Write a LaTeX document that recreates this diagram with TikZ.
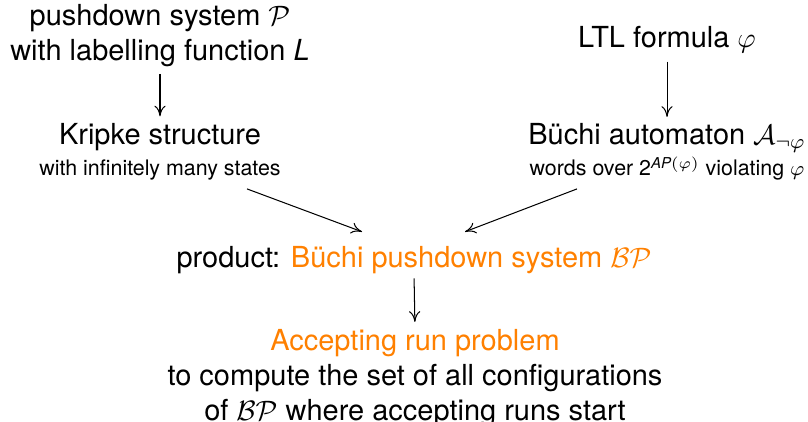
\documentclass[tikz,border=0pt]{standalone}
\usepackage{amsmath}
\usepackage{fontspec}
\setmainfont{TeX Gyre Heros}
\usetikzlibrary{calc,arrows.meta}
\definecolor{borange}{RGB}{255,128,0}
\begin{document}
\begin{tikzpicture}[x=0.39pt,y=-0.39pt,
  lbl/.style={align=center,inner sep=0pt,font=\fontsize{11.3}{13.6}\selectfont},
  arr/.style={-{To[length=4.2pt,width=4.4pt]},line width=0.4pt}]
\newcommand{\subtext}[1]{{\fontsize{8.35}{12}\selectfont #1}}
\useasboundingbox (0,0) rectangle (808,422);
\node[lbl] (pds) at (160,36) {pushdown system $\mathcal{P}$\\with labelling function \textit{L}};
\node[lbl] (kripke) at (160,152) {Kripke structure\\[-1.5pt]\subtext{with infinitely many states}};
\node[lbl] (ltl) at (667,40) {LTL formula $\varphi$};
\node[lbl] (buchi) at (667,152) {B\"uchi automaton $\mathcal{A}_{\neg\varphi}$\\[-1.5pt]\subtext{words over 2$^{\textit{AP}(\varphi)}$ violating $\varphi$}};
\node[lbl] (prod) at (414,260) {product: \textcolor{borange}{B\"uchi pushdown system $\mathcal{BP}$}};
\node[lbl] (acc) at (415,378) {\textcolor{borange}{Accepting run problem}\\to compute the set of all configurations\\of $\mathcal{BP}$ where accepting runs start};
\draw[arr,shorten <=2.4pt,shorten >=2.6pt] (pds.south) -- (kripke.north);
\draw[arr,shorten <=3pt,shorten >=2.4pt] (ltl.south) -- (buchi.north);
\draw[arr] ($(kripke.south)+(87,8)$) -- ($(prod.north)+(-52,-14)$);
\draw[arr] ($(buchi.south)+(-90,8)$) -- ($(prod.north)+(51,-14)$);
\draw[arr,shorten <=1.6pt,shorten >=2.7pt] (prod.south) -- (acc.north);
\end{tikzpicture}
\end{document}
